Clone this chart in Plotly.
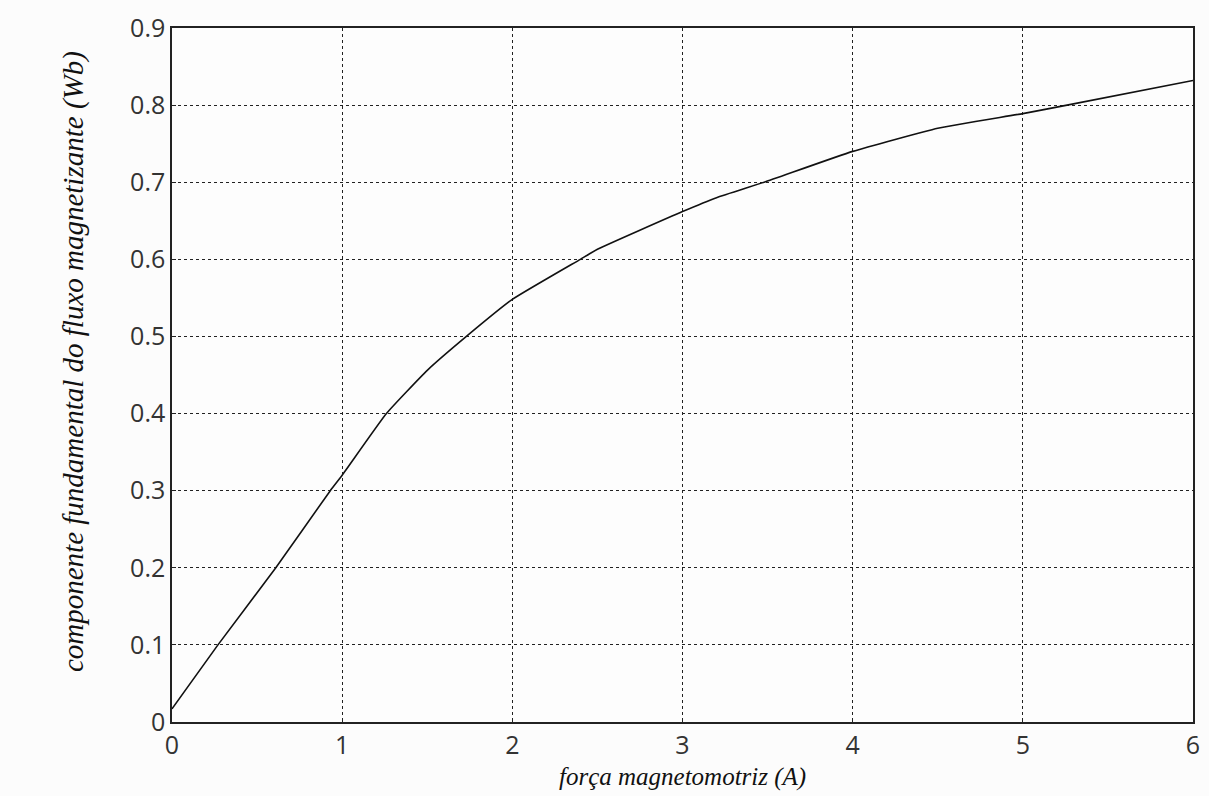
import plotly.graph_objects as go

# Magnetization curve: fundamental flux component vs. magnetomotive force
mmf = [0.0, 0.27, 0.61, 0.93, 1.0, 1.26, 1.5, 1.73, 2.0, 2.4, 2.5, 3.0, 3.2, 3.48, 4.0, 4.5, 5.0, 5.26, 6.0]
flux = [0.017, 0.10, 0.20, 0.30, 0.32, 0.40, 0.456, 0.50, 0.548, 0.60, 0.613, 0.662, 0.68, 0.70, 0.740, 0.770, 0.789, 0.80, 0.832]

x_ticks = [0, 1, 2, 3, 4, 5, 6]
y_ticks = [0, 0.1, 0.2, 0.3, 0.4, 0.5, 0.6, 0.7, 0.8, 0.9]
y_tick_text = ["0", "0.1", "0.2", "0.3", "0.4", "0.5", "0.6", "0.7", "0.8", "0.9"]

fig = go.Figure()
fig.add_trace(go.Scatter(
    x=mmf, y=flux, mode="lines",
    line=dict(color="#111111", width=1.6, shape="spline", smoothing=0.4),
    showlegend=False,
))

axis_common = dict(
    showline=True, linecolor="#222222", linewidth=1.5, mirror=True,
    showgrid=True, gridcolor="#222222", gridwidth=1, griddash="3px,3px",
    zeroline=False,
    ticks="inside", ticklen=4, tickcolor="#222222",
    tickfont=dict(family="Open Sans", size=25, color="#333333"),
)

fig.update_xaxes(range=[0, 6], tickvals=x_ticks, **axis_common)
fig.update_yaxes(range=[0, 0.9], tickvals=y_ticks, ticktext=y_tick_text, **axis_common)

fig.add_annotation(
    text="<i>força magnetomotriz (A)</i>", xref="paper", yref="paper",
    x=0.5, y=-0.079, showarrow=False, xanchor="center", yanchor="middle",
    font=dict(family="Liberation Serif", size=25, color="#111111"),
)
fig.add_annotation(
    text="<i>componente fundamental do fluxo magnetizante (Wb)</i>",
    xref="paper", yref="paper", x=-0.097, y=0.52, textangle=-90,
    showarrow=False, xanchor="center", yanchor="middle",
    font=dict(family="Liberation Serif", size=29, color="#111111"),
)

fig.update_layout(
    width=1209, height=796,
    margin=dict(l=172, r=9, t=28, b=74),
    paper_bgcolor="#fcfcfc", plot_bgcolor="#fdfdfd",
)

fig.write_html("out.html")
